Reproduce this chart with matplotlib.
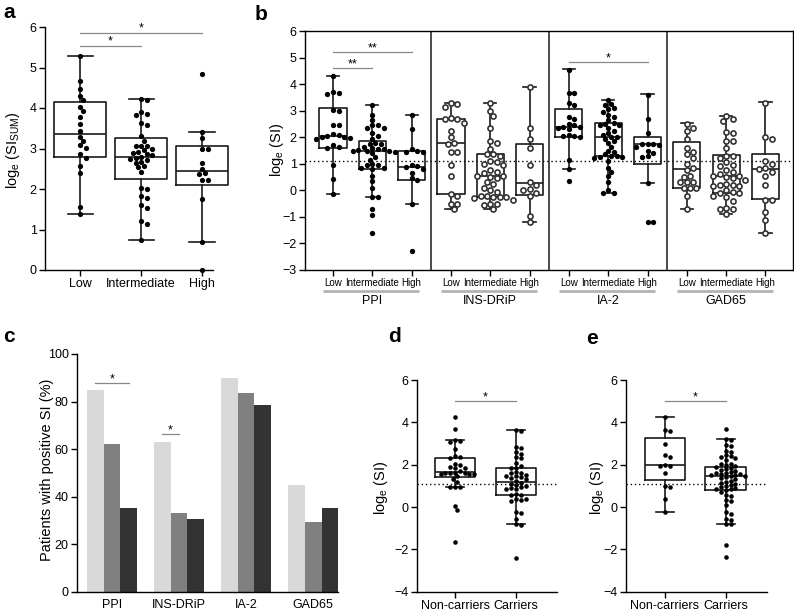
import numpy as np
import matplotlib
matplotlib.use("Agg")
import matplotlib.pyplot as plt
import matplotlib.transforms as mtransforms

plt.rcParams["font.family"] = ["Liberation Sans", "DejaVu Sans"]
plt.rcParams["axes.linewidth"] = 1.0

si_cutoff = np.log(3)  # SI = 3 threshold

# ---------------- panel a : log_e(SI_SUM) by group ----------------
a_groups = ["Low", "Intermediate", "High"]
a_low = [5.28, 4.67, 4.47, 4.30, 4.20, 4.03, 3.93, 3.77, 3.60, 3.44, 3.29, 3.19, 3.09, 3.02,
         2.86, 2.77, 2.58, 2.39, 1.55, 1.38]
a_int = [4.23, 4.20, 3.91, 3.85, 3.82, 3.64, 3.57, 3.30, 3.19, 3.06, 3.05, 3.07, 2.98, 2.96,
         2.92, 2.90, 2.86, 2.84, 2.80, 2.77, 2.75, 2.72, 2.67, 2.65, 2.57, 2.55, 2.43, 2.02,
         1.99, 1.83, 1.79, 1.60, 1.52, 1.20, 1.14, 0.74]
a_high = [4.85, 3.41, 3.27, 2.98, 2.98, 2.63, 2.50, 2.40, 2.38, 2.23, 2.23, 1.75, 0.70, 0.00]
# whislo, q1, median, q3, whishi
a_box = [[1.38, 2.80, 3.37, 4.16, 5.28],
         [0.74, 2.24, 2.80, 3.25, 4.22],
         [0.70, 2.10, 2.45, 3.05, 3.41]]

# ---------------- panel b : log_e(SI) per antigen ----------------
b_antigens = ["PPI", "INS-DRiP", "IA-2", "GAD65"]
b_ticklabels = ["Low", "Intermediate", "High"]
ppi_low = [4.30, 3.72, 3.68, 3.62, 3.02, 2.97, 2.46, 2.46, 2.12, 2.08, 2.04, 2.02, 2.00, 1.98,
           1.95, 1.70, 1.62, 1.60, 0.95, 0.42, -0.12]
ppi_int = [3.20, 2.85, 2.65, 2.45, 2.45, 2.35, 2.35, 2.15, 2.05, 1.95, 1.80, 1.75, 1.75, 1.65,
           1.60, 1.57, 1.55, 1.52, 1.50, 1.50, 1.47, 1.45, 1.40, 1.25, 1.15, 1.00, 0.95, 0.95,
           0.85, 0.85, 0.80, 0.55, 0.35, 0.10, -0.25, -0.25, -0.70, -0.92, -1.60]
ppi_high = [2.85, 2.30, 1.55, 1.50, 1.45, 1.45, 0.95, 0.90, 0.88, 0.80, 0.65, 0.45, 0.40, -0.52, -2.30]
ins_low = [3.30, 3.25, 3.15, 2.72, 2.70, 2.68, 2.55, 2.25, 2.00, 1.80, 1.75, 1.45, 1.45, 0.95,
           0.55, -0.12, -0.20, -0.50, -0.50, -0.70]
ins_int = [3.27, 3.00, 2.80, 2.35, 1.85, 1.80, 1.55, 1.35, 1.35, 1.30, 1.10, 1.05, 1.00, 0.95,
           0.75, 0.70, 0.65, 0.55, 0.55, 0.50, 0.45, 0.30, 0.25, 0.10, 0.00, -0.05, -0.20, -0.20,
           -0.25, -0.25, -0.25, -0.30, -0.35, -0.50, -0.50, -0.55, -0.70]
ins_high = [3.88, 2.35, 1.95, 1.60, 0.95, 0.30, 0.20, 0.05, 0.00, -0.10, -0.20, -0.95, -1.20]
ia_low = [4.55, 3.65, 3.65, 3.30, 3.20, 2.75, 2.70, 2.50, 2.45, 2.40, 2.40, 2.35, 2.30, 2.10,
          2.05, 2.05, 2.00, 1.15, 0.80, 0.35]
ia_int = [3.40, 3.25, 3.20, 3.10, 3.05, 2.95, 2.85, 2.75, 2.65, 2.55, 2.50, 2.45, 2.45, 2.35,
          2.25, 2.15, 2.10, 2.00, 2.00, 1.95, 1.85, 1.80, 1.65, 1.50, 1.45, 1.35, 1.30, 1.30,
          1.25, 1.25, 1.20, 1.10, 0.85, 0.70, 0.55, 0.30, 0.00, -0.10, -0.10]
ia_high = [3.60, 2.70, 2.15, 1.75, 1.75, 1.75, 1.70, 1.65, 1.50, 1.40, 1.30, 1.25, 0.27, -1.20, -1.20]
gad_low = [2.50, 2.35, 2.25, 1.95, 1.60, 1.45, 1.35, 1.20, 1.00, 0.85, 0.75, 0.55, 0.50, 0.30,
           0.30, 0.30, 0.10, 0.10, 0.10, -0.20, -0.70]
gad_int = [2.80, 2.70, 2.60, 2.20, 2.15, 1.85, 1.85, 1.60, 1.30, 1.30, 1.20, 1.05, 0.95, 0.90,
           0.75, 0.70, 0.60, 0.55, 0.55, 0.50, 0.45, 0.40, 0.25, 0.20, 0.20, 0.15, 0.15, 0.00,
           -0.05, -0.10, -0.10, -0.20, -0.25, -0.40, -0.65, -0.70, -0.70, -0.90]
gad_high = [3.30, 2.00, 1.95, 1.10, 1.00, 0.85, 0.80, 0.70, 0.55, 0.20, -0.35, -0.35, -0.80, -1.10, -1.62]
b_values = [ppi_low, ppi_int, ppi_high, ins_low, ins_int, ins_high,
            ia_low, ia_int, ia_high, gad_low, gad_int, gad_high]
b_filled = [True, True, True, False, False, False, True, True, True, False, False, False]
b_box = [[-0.12, 1.60, 2.03, 3.09, 4.30], [-0.25, 0.82, 1.50, 1.85, 3.20], [-0.52, 0.40, 0.88, 1.50, 2.85],
         [-0.70, -0.12, 1.80, 2.70, 3.30], [-0.70, -0.25, 0.55, 1.35, 3.27], [-1.20, -0.18, 0.27, 1.75, 3.88],
         [0.80, 2.02, 2.37, 3.05, 4.57], [-0.11, 1.30, 2.00, 2.52, 3.40], [0.26, 0.98, 1.73, 2.02, 3.61],
         [-0.70, 0.10, 0.80, 1.81, 2.52], [-0.90, -0.11, 0.55, 1.32, 2.81], [-1.62, -0.34, 0.80, 1.36, 3.31]]

# ---------------- panel c : % positive SI ----------------
c_antigens = ["PPI", "INS-DRiP", "IA-2", "GAD65"]
c_low = [85, 63, 90, 45]
c_int = [62, 33, 83.5, 29.5]
c_high = [35.5, 30.5, 78.5, 35.5]

# ---------------- panels d, e : carriers ----------------
de_groups = ["Non-carriers", "Carriers"]
d_non = [4.27, 3.68, 3.15, 3.10, 3.05, 2.75, 2.40, 2.35, 2.30, 2.05, 2.00, 1.90, 1.85, 1.85, 1.70,
         1.62, 1.60, 1.60, 1.60, 1.58, 1.55, 1.55, 1.45, 1.30, 1.20, 0.95, 0.95, 0.95, 0.05, -0.12, -1.65]
d_car = [3.62, 3.58, 2.85, 2.80, 2.60, 2.50, 2.35, 2.30, 2.10, 1.95, 1.85, 1.85, 1.65, 1.60, 1.60,
         1.50, 1.45, 1.45, 1.40, 1.35, 1.30, 1.25, 1.15, 1.10, 1.05, 1.00, 0.95, 0.90, 0.85, 0.85,
         0.60, 0.55, 0.55, 0.40, 0.40, 0.35, 0.30, -0.25, -0.30, -0.55, -0.80, -0.85, -2.40]
d_box = [[0.95, 1.43, 1.67, 2.33, 3.17], [-0.82, 0.55, 1.20, 1.86, 3.64]]
e_non = [4.27, 3.65, 3.60, 3.00, 2.45, 2.35, 2.00, 1.95, 1.95, 1.60, 1.00, 0.95, 0.40, -0.25]
e_car = [3.70, 3.20, 3.15, 2.95, 2.90, 2.65, 2.60, 2.45, 2.40, 2.35, 2.30, 2.20, 2.05, 2.05, 2.00,
         1.95, 1.90, 1.85, 1.80, 1.75, 1.70, 1.65, 1.60, 1.60, 1.55, 1.55, 1.50, 1.50, 1.45, 1.45,
         1.40, 1.35, 1.30, 1.25, 1.20, 1.15, 1.10, 1.05, 1.00, 0.95, 0.90, 0.85, 0.85, 0.80, 0.70,
         0.55, 0.50, 0.35, 0.30, 0.10, -0.25, -0.35, -0.55, -0.60, -0.80, -0.80, -1.80, -2.35]
e_box = [[-0.25, 1.28, 1.98, 3.28, 4.27], [-0.80, 0.80, 1.47, 1.90, 3.20]]


W, H = 794, 612
fig = plt.figure(figsize=(W / 100, H / 100), dpi=100)


def px_axes(left, top, right, bottom):
  return fig.add_axes([left / W, 1 - bottom / H, (right - left) / W, (bottom - top) / H])


def swarm(ax, x0, ys, diam, pack=0.85):
  """ simple beeswarm: x positions (data units) so that markers don't overlap much """
  ys = np.asarray(ys, float)
  tr = ax.transData
  pix = tr.transform(np.column_stack([np.full(ys.size, x0), ys]))
  cx = pix[0, 0]
  step = diam / 2.0
  placed = []
  xs = np.empty(ys.size)
  for i in np.argsort(-ys):
    py = pix[i, 1]
    for k in range(400):
      off = ((k + 1) // 2) * step * (1 if k % 2 else -1)
      px = cx + off
      if all((px - qx) ** 2 + (py - qy) ** 2 >= (pack * diam) ** 2 for qx, qy in placed):
        break
    placed.append((px, py))
    xs[i] = px
  return tr.inverted().transform(np.column_stack([xs, pix[:, 1]]))[:, 0]


def boxes(ax, positions, stats, width, capw, lw=1.2):
  st = [dict(whislo=s[0], q1=s[1], med=s[2], q3=s[3], whishi=s[4], fliers=[]) for s in stats]
  lp = dict(color="#1a1a1a", linewidth=lw)
  ax.bxp(st, positions=positions, widths=width, capwidths=capw, showfliers=False,
         manage_ticks=False, boxprops=lp, whiskerprops=lp, capprops=lp,
         medianprops=dict(color="#1a1a1a", linewidth=lw), zorder=2)


def dots(ax, x0, ys, diam, filled=True):
  xs = swarm(ax, x0, ys, diam)
  if filled:
    ax.scatter(xs, ys, s=(diam * 0.72 * 0.95) ** 2, color="black", lw=0, zorder=3, clip_on=False)
  else:
    ax.scatter(xs, ys, s=(diam * 0.72 * 0.8) ** 2, facecolor="white", edgecolor="#333333",
               lw=1.2, zorder=3, clip_on=False)


def bracket(ax, x1, x2, y, text, dy=0.02, fs=9):
  ax.plot([x1, x2], [y, y], color="#888888", lw=0.9, clip_on=False, zorder=4)
  ax.text((x1 + x2) / 2, y + dy, text, ha="center", va="baseline", fontsize=fs)


def simple_axes(ax):
  ax.spines["top"].set_visible(False)
  ax.spines["right"].set_visible(False)
  ax.tick_params(length=4, width=1, labelsize=9, pad=2)


# ---------------- a ----------------
ax = px_axes(45, 27, 232.5, 270)
ax.set_xlim(-0.574, 2.5)
ax.set_ylim(0, 6)
simple_axes(ax)
ax.spines["bottom"].set_bounds(-0.574, 2.18)
boxes(ax, [0, 1, 2], a_box, 0.84, 0.41)
for i, vals in enumerate([a_low, a_int, a_high]):
  dots(ax, i, vals, 5.5)
ax.set_xticks([0, 1, 2])
ax.set_xticklabels(a_groups, fontsize=9)
ax.set_yticks(range(0, 7))
bracket(ax, 0, 1, 5.54, "*")
bracket(ax, 0, 2, 5.86, "*")

# ---------------- b ----------------
ax = px_axes(305, 31, 793, 270)
ax.set_xlim(-0.712, 11.70)
ax.set_ylim(-3, 6)
ax.tick_params(length=4, width=1, labelsize=9, pad=2)
ax.axhline(si_cutoff, color="black", lw=1, ls=(0, (1, 2)), zorder=1)
for sep in (2.5, 5.5, 8.5):
  ax.axvline(sep, color="#1a1a1a", lw=1.1, zorder=1)
boxes(ax, list(range(12)), b_box, 0.69, 0.31)
for i, vals in enumerate(b_values):
  dots(ax, i, vals, 5.6 if b_filled[i] else 6.4, filled=b_filled[i])
ax.set_xticks(range(12))
ax.set_xticklabels(b_ticklabels * 4, fontsize=7)
ax.tick_params(axis="x", pad=2)
ax.set_yticks(range(-3, 7))
trans = mtransforms.blended_transform_factory(ax.transData, ax.transAxes)
for g, name in enumerate(b_antigens):
  ax.plot([3 * g - 0.25, 3 * g + 2.2], [-0.088, -0.088], color="#b3b3b3", lw=2.0,
          transform=trans, clip_on=False, solid_capstyle="butt")
  ax.text(3 * g + 1, -0.128, name, transform=trans, ha="center", va="center", fontsize=9)
bracket(ax, 0, 1, 4.62, "**")
bracket(ax, 0, 2, 5.20, "**")
bracket(ax, 6, 8, 4.84, "*")

# ---------------- c ----------------
ax = px_axes(77, 354, 338, 592)
ax.set_xlim(-0.52, 3.37)
ax.set_ylim(0, 100)
simple_axes(ax)
xc = np.arange(len(c_antigens))
ax.bar(xc - 0.25, c_low, width=0.25, color="#d9d9d9")
ax.bar(xc, c_int, width=0.25, color="#808080")
ax.bar(xc + 0.25, c_high, width=0.25, color="#333333")
ax.set_xticks(xc)
ax.set_xticklabels(c_antigens, fontsize=9)
ax.tick_params(axis="x", length=0, pad=5)
ax.set_yticks(range(0, 101, 20))
bracket(ax, -0.25, 0.25, 87.7, "*", dy=0.4)
bracket(ax, 0.75, 1.0, 66.3, "*", dy=0.4)

# ---------------- d, e ----------------
for rect, xl, non, car, bx in [((417, 380, 557, 591.7), (-0.623, 1.672), d_non, d_car, d_box),
                               ((625.7, 380, 767, 591.7), (-0.647, 1.68), e_non, e_car, e_box)]:
  ax = px_axes(*rect)
  ax.set_xlim(*xl)
  ax.set_ylim(-4, 6)
  simple_axes(ax)
  ax.axhline(si_cutoff, color="black", lw=1, ls=(0, (1, 2)), zorder=1)
  boxes(ax, [0, 1], bx, 0.67, 0.3)
  dots(ax, 0, non, 4.8)
  dots(ax, 1, car, 4.8)
  ax.set_xticks([0, 1])
  ax.set_xticklabels(de_groups, fontsize=9)
  ax.set_yticks(range(-4, 7, 2))
  bracket(ax, 0, 1, 5.02, "*", dy=0.03)

# ---------------- labels ----------------
ylab_kw = dict(rotation=90, ha="center", va="center", fontsize=10.5)
fig.text(13 / W, 1 - 150 / H, "log$_\\mathregular{e}$ (SI$_\\mathregular{SUM}$)", **ylab_kw)
fig.text(277 / W, 1 - 150 / H, "log$_\\mathregular{e}$ (SI)", **ylab_kw)
fig.text(47 / W, 1 - 470 / H, "Patients with positive SI (%)", **ylab_kw)
fig.text(381 / W, 1 - 488 / H, "log$_\\mathregular{e}$ (SI)", **ylab_kw)
fig.text(597 / W, 1 - 488 / H, "log$_\\mathregular{e}$ (SI)", **ylab_kw)

lab_kw = dict(fontsize=15, fontweight="bold", ha="left", va="center")
fig.text(3 / W, 1 - 13 / H, "a", **lab_kw)
fig.text(255 / W, 1 - 15 / H, "b", **lab_kw)
fig.text(3 / W, 1 - 337 / H, "c", **lab_kw)
fig.text(388 / W, 1 - 337 / H, "d", **lab_kw)
fig.text(586 / W, 1 - 338 / H, "e", **lab_kw)

fig.savefig("out.png", dpi=100)
